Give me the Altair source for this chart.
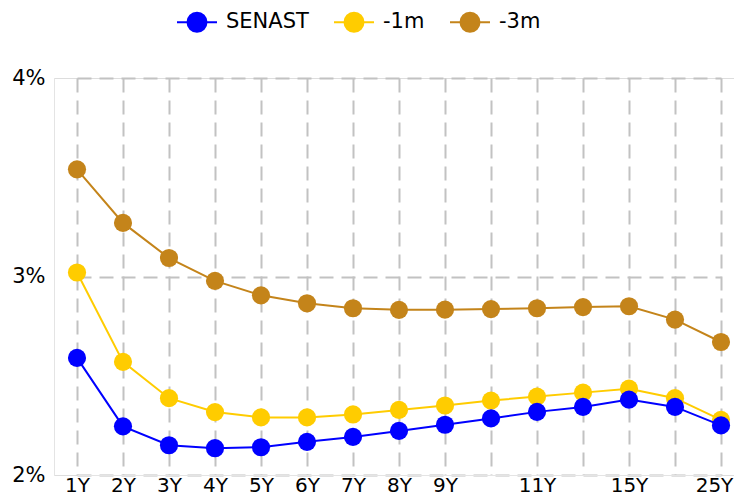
import altair as alt
import pandas as pd

tenors = ["1Y", "2Y", "3Y", "4Y", "5Y", "6Y", "7Y", "8Y", "9Y", "10Y", "11Y", "12Y", "15Y", "20Y", "25Y"]
hidden_labels = ["10Y", "12Y", "20Y"]
senast = [2.59, 2.245, 2.15, 2.135, 2.14, 2.167, 2.192, 2.222, 2.253, 2.285, 2.318, 2.343, 2.38, 2.343, 2.25]
m1 = [3.02, 2.57, 2.387, 2.317, 2.29, 2.29, 2.305, 2.328, 2.35, 2.375, 2.395, 2.415, 2.435, 2.387, 2.278]
m3 = [3.54, 3.27, 3.093, 2.978, 2.905, 2.865, 2.84, 2.832, 2.833, 2.836, 2.84, 2.846, 2.85, 2.783, 2.67]
series_names = ["SENAST", "-1m", "-3m"]
series_values = {"SENAST": senast, "-1m": m1, "-3m": m3}
colors = ["#0000ff", "#ffcc00", "#c4841a"]
y_ticks = [2, 3, 4]

rows = []
for name in series_names:
    for t, v in zip(tenors, series_values[name]):
        rows.append({"tenor": t, "rate": v, "series": name})
df = pd.DataFrame(rows)

hidden_js = "[" + ",".join("'%s'" % h for h in hidden_labels) + "]"
last_tenor = tenors[-1]

legend_path = ("M-1,0L1,0M-0.475,0A0.475,0.475,0,1,1,0.475,0"
               "A0.475,0.475,0,1,1,-0.475,0Z")

legend = alt.Legend(
    orient="none", legendX=122, legendY=-77, direction="horizontal",
    title=None, symbolType=legend_path, symbolSize=1600, symbolStrokeWidth=2,
    symbolOpacity=1, labelFontSize=21, labelFont="DejaVu Sans",
    labelOffset=8,
)

grid_style = dict(grid=True, gridDash=[14, 8], gridColor="#c2c2c2", gridWidth=2,
                  domainColor="#e4e4e4", domainWidth=1)

x_enc = alt.X(
    "tenor:N", sort=tenors, title=None,
    scale=alt.Scale(type="point", range=[23, 667], padding=0),
    axis=alt.Axis(
        labelExpr="indexof(%s, datum.value) >= 0 ? '' : datum.value" % hidden_js,
        labelOffset={"condition": {"test": "datum.value === '%s'" % last_tenor, "value": -7},
                     "value": 0},
        labelAngle=0, labelFontSize=20, labelFont="DejaVu Sans", labelColor="black",
        labelPadding=0, labelOverlap=False, labelBound=False, ticks=False, **grid_style,
    ),
)
y_enc = alt.Y(
    "rate:Q", title=None,
    scale=alt.Scale(domain=[2, 4], nice=False, zero=False),
    axis=alt.Axis(
        values=y_ticks, labelExpr="datum.value + '%'",
        labelFontSize=21, labelFont="DejaVu Sans", labelColor="black",
        labelPadding=9, ticks=False, **grid_style,
    ),
)
color_enc = alt.Color(
    "series:N", scale=alt.Scale(domain=series_names, range=colors), legend=legend
)

layers = []
for name in ["-3m", "-1m", "SENAST"]:
    base = alt.Chart(df).transform_filter(alt.datum.series == name).encode(
        x=x_enc, y=y_enc, color=color_enc
    )
    layers.append(base.mark_line(strokeWidth=2))
    layers.append(base.mark_circle(size=330, opacity=1))

chart = alt.layer(*layers).properties(
    width=680, height=397,
    autosize=alt.AutoSizeParams(type="none"),
    padding={"left": 46, "top": 70, "right": 0, "bottom": 21},
).configure_view(stroke=None).configure(font="DejaVu Sans").configure_legend(
    columnPadding=21, labelColor="black"
)

chart.save("out.html", embed_options={"renderer": "svg", "actions": False})
